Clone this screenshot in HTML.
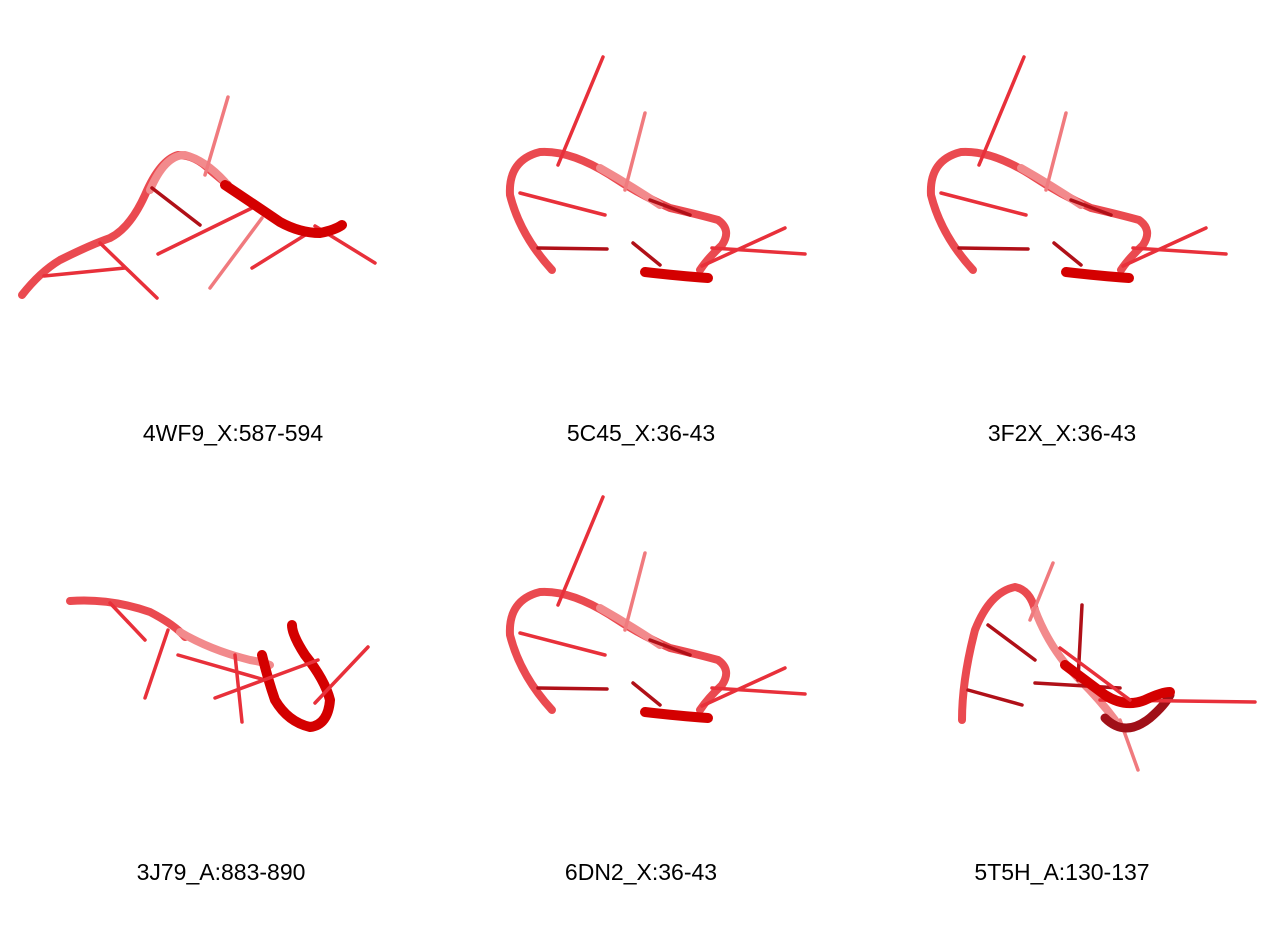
<!DOCTYPE html>
<html><head><meta charset="utf-8">
<style>
html,body{margin:0;padding:0;background:#fff;}
svg{display:block}
text{font-family:"Liberation Sans",Arial,sans-serif;font-size:23px;fill:#000;text-anchor:middle}
.t{fill:none;stroke-linecap:round;stroke-linejoin:round}
.bb{stroke:#ea4a50;stroke-width:8}
.lt{stroke:#f28a8c;stroke-width:8}
.dk{stroke:#d40000;stroke-width:10}
.s{stroke:#e8303a;stroke-width:3.5}
.sl{stroke:#f07a7e;stroke-width:3.5}
.sd{stroke:#b01018;stroke-width:3.5}
</style></head>
<body>
<svg width="1280" height="940" viewBox="0 0 1280 940">
<defs>
<g id="p2">
  <path class="t bb" d="M552,270 Q520,235 510,195 Q508,160 540,152 Q570,150 610,175 Q640,195 670,208 Q700,215 718,220 Q732,230 722,245 Q708,258 700,270"/>
  <path class="t lt" d="M600,168 Q630,185 660,205" />
  <line class="t s" x1="603" y1="57" x2="558" y2="165"/>
  <line class="t sl" x1="645" y1="113" x2="625" y2="190"/>
  <line class="t s" x1="520" y1="193" x2="605" y2="215"/>
  <line class="t sd" x1="538" y1="248" x2="607" y2="249"/>
  <line class="t sd" x1="633" y1="243" x2="660" y2="265"/>
  <line class="t sd" x1="650" y1="200" x2="690" y2="215"/>
  <line class="t s" x1="712" y1="248" x2="805" y2="254"/>
  <path class="t dk" d="M645,272 Q680,276 708,278"/>
  <line class="t s" x1="702" y1="266" x2="785" y2="228"/>
</g>
</defs>

<g>
  <path class="t bb" d="M22,295 Q40,272 60,260 Q90,245 110,238 Q130,228 145,195 Q160,160 178,155 Q195,155 210,170 Q222,180 228,185"/>
  <path class="t lt" d="M150,190 Q165,155 185,155 Q205,160 225,182"/>
  <line class="t sl" x1="228" y1="97" x2="205" y2="175"/>
  <line class="t sd" x1="152" y1="188" x2="200" y2="225"/>
  <line class="t s" x1="158" y1="254" x2="252" y2="208"/>
  <line class="t sl" x1="210" y1="288" x2="262" y2="218"/>
  <line class="t s" x1="44" y1="276" x2="125" y2="268"/>
  <line class="t s" x1="100" y1="243" x2="157" y2="298"/>
  <line class="t s" x1="252" y1="268" x2="310" y2="232"/>
  <line class="t s" x1="315" y1="226" x2="375" y2="263"/>
  <path class="t dk" d="M225,185 Q255,205 280,222 Q300,233 320,233 Q335,230 342,225"/>
  <text x="233" y="441">4WF9_X:587-594</text>
</g>

<g>
  <use href="#p2"/>
  <text x="641" y="441">5C45_X:36-43</text>
</g>
<g>
  <use href="#p2" transform="translate(421,0)"/>
  <text x="1062" y="441">3F2X_X:36-43</text>
</g>

<g>
  <path class="t bb" d="M70,601 Q110,598 150,612 Q175,625 185,637"/>
  <path class="t lt" d="M180,632 Q210,650 250,660 Q262,662 270,665"/>
  <line class="t s" x1="110" y1="603" x2="145" y2="640"/>
  <line class="t s" x1="168" y1="630" x2="145" y2="698"/>
  <line class="t s" x1="178" y1="655" x2="265" y2="680"/>
  <line class="t s" x1="235" y1="655" x2="242" y2="722"/>
  <path class="t dk" d="M262,655 Q268,680 275,700 Q288,722 310,727 Q328,725 330,700 Q325,680 305,655 Q292,635 292,625"/>
  <line class="t s" x1="215" y1="698" x2="318" y2="660"/>
  <line class="t s" x1="315" y1="703" x2="368" y2="647"/>
  <text x="221" y="880">3J79_A:883-890</text>
</g>

<g>
  <use href="#p2" transform="translate(0,440)"/>
  <text x="641" y="880">6DN2_X:36-43</text>
</g>

<g>
  <path class="t bb" d="M962,720 Q962,680 975,630 Q990,592 1015,587 Q1030,590 1035,610"/>
  <path class="t lt" d="M1035,610 Q1050,650 1080,680 Q1100,700 1115,720"/>
  <line class="t sl" x1="1053" y1="563" x2="1030" y2="620"/>
  <line class="t sd" x1="1082" y1="605" x2="1078" y2="680"/>
  <line class="t sd" x1="988" y1="625" x2="1035" y2="660"/>
  <line class="t sd" x1="968" y1="690" x2="1022" y2="705"/>
  <line class="t sl" x1="1120" y1="720" x2="1138" y2="770"/>
  <path class="t" style="stroke:#a01018;stroke-width:9" d="M1105,718 Q1125,738 1150,718 Q1165,705 1170,695"/>
  <line class="t sd" x1="1035" y1="683" x2="1120" y2="688"/>
  <line class="t s" x1="1100" y1="700" x2="1255" y2="702"/>
  <path class="t dk" d="M1065,665 Q1085,680 1105,695 Q1125,708 1145,700 Q1162,692 1170,692"/>
  <line class="t s" x1="1060" y1="648" x2="1130" y2="700"/>
  <text x="1062" y="880">5T5H_A:130-137</text>
</g>
</svg>
</body></html>
